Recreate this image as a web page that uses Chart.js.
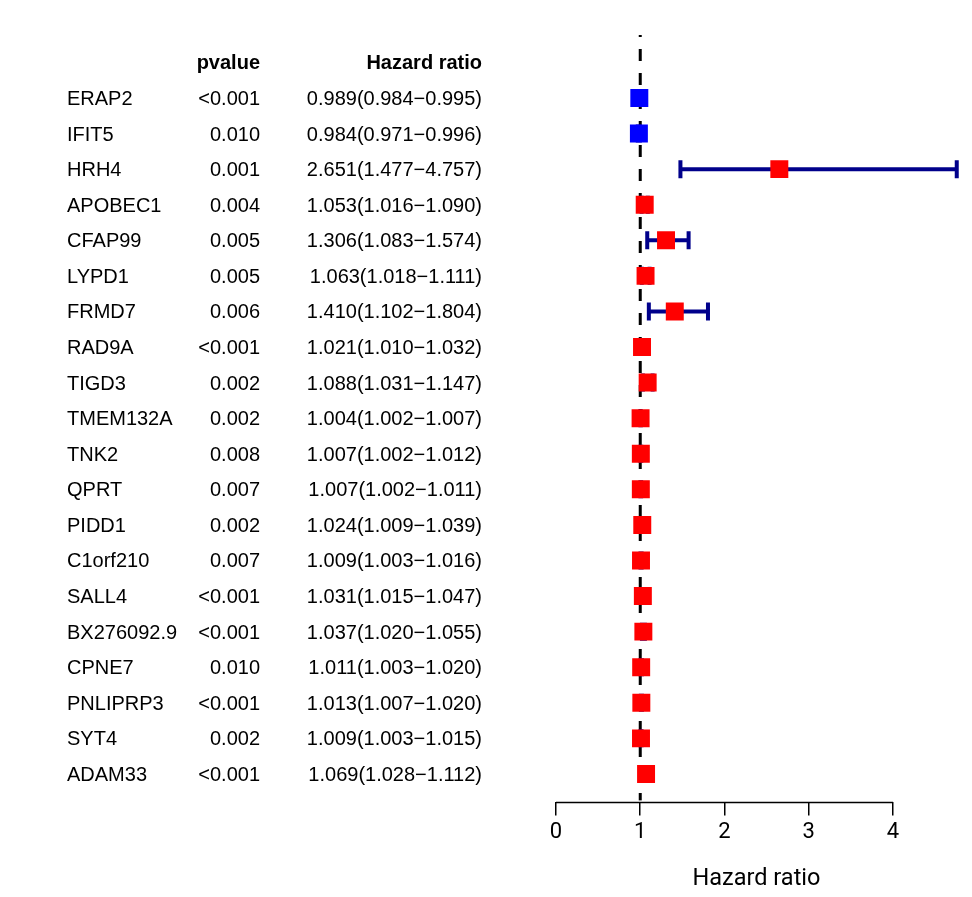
<!DOCTYPE html>
<html>
<head>
<meta charset="utf-8">
<script src="https://cdn.jsdelivr.net/npm/chart.js@4/dist/chart.umd.min.js"></script>
<style>
  html, body { margin: 0; padding: 0; background: #fff; }
  #wrap { width: 972px; height: 897px; }
</style>
</head>
<body>
<div id="wrap"><canvas id="forest" width="972" height="897"></canvas></div>
<script>
// --- data ---
const genes = ['ERAP2', 'IFIT5', 'HRH4', 'APOBEC1', 'CFAP99', 'LYPD1', 'FRMD7', 'RAD9A', 'TIGD3', 'TMEM132A',
  'TNK2', 'QPRT', 'PIDD1', 'C1orf210', 'SALL4', 'BX276092.9', 'CPNE7', 'PNLIPRP3', 'SYT4', 'ADAM33'];
const pvalues = ['<0.001', '0.010', '0.001', '0.004', '0.005', '0.005', '0.006', '<0.001', '0.002', '0.002',
  '0.008', '0.007', '0.002', '0.007', '<0.001', '<0.001', '0.010', '<0.001', '0.002', '<0.001'];
const hr = [0.989, 0.984, 2.651, 1.053, 1.306, 1.063, 1.410, 1.021, 1.088, 1.004,
  1.007, 1.007, 1.024, 1.009, 1.031, 1.037, 1.011, 1.013, 1.009, 1.069];
const hrLow = [0.984, 0.971, 1.477, 1.016, 1.083, 1.018, 1.102, 1.010, 1.031, 1.002,
  1.002, 1.002, 1.009, 1.003, 1.015, 1.020, 1.003, 1.007, 1.003, 1.028];
const hrHigh = [0.995, 0.996, 4.757, 1.090, 1.574, 1.111, 1.804, 1.032, 1.147, 1.007,
  1.012, 1.011, 1.039, 1.016, 1.047, 1.055, 1.020, 1.020, 1.015, 1.112];
const xTicks = [0, 1, 2, 3, 4];

const TABLE_FONT = '"Liberation Sans", Arial, sans-serif';
const AXIS_FONT = 'Roboto, "Liberation Sans", Arial, sans-serif';
const fmt = v => v.toFixed(3);

// error bars + reference line, drawn under the squares
const forestPlugin = {
  id: 'forest',
  beforeDatasetsDraw(chart) {
    const { ctx, chartArea, scales: { x, y } } = chart;
    ctx.save();
    // dashed line at HR = 1
    ctx.strokeStyle = '#000';
    ctx.lineWidth = 3;
    ctx.setLineDash([12, 12]);
    ctx.lineDashOffset = 10;
    ctx.beginPath();
    ctx.moveTo(x.getPixelForValue(1), chartArea.top);
    ctx.lineTo(x.getPixelForValue(1), chartArea.bottom - 2);
    ctx.stroke();
    ctx.setLineDash([]);

    // confidence intervals
    ctx.strokeStyle = '#00008B';
    ctx.lineWidth = 4;
    genes.forEach((g, i) => {
      const py = y.getPixelForValue(i);
      const x1 = x.getPixelForValue(hrLow[i]);
      const x2 = x.getPixelForValue(hrHigh[i]);
      ctx.beginPath();
      ctx.moveTo(x1, py);
      ctx.lineTo(x2, py);
      ctx.moveTo(x1, py - 9);
      ctx.lineTo(x1, py + 9);
      ctx.moveTo(x2, py - 9);
      ctx.lineTo(x2, py + 9);
      ctx.stroke();
    });
    ctx.restore();
  },
  afterDraw(chart) {
    const { ctx, scales: { x, y } } = chart;
    ctx.save();
    // axis line from 0 to 4 only
    const axisY = chart.chartArea.bottom;
    ctx.strokeStyle = '#000';
    ctx.lineWidth = 1.5;
    ctx.beginPath();
    ctx.moveTo(x.getPixelForValue(xTicks[0]), axisY);
    ctx.lineTo(x.getPixelForValue(xTicks[xTicks.length - 1]), axisY);
    ctx.stroke();

    // table columns
    ctx.fillStyle = '#000';
    ctx.textBaseline = 'middle';
    ctx.font = 'bold 20px ' + TABLE_FONT;
    ctx.textAlign = 'right';
    const hy = y.getPixelForValue(-1) + 1.5;
    ctx.fillText('pvalue', 260, hy);
    ctx.fillText('Hazard ratio', 482, hy);

    ctx.font = '20px ' + TABLE_FONT;
    genes.forEach((g, i) => {
      const py = y.getPixelForValue(i) + 1.5;
      ctx.textAlign = 'left';
      ctx.fillText(g, 67, py);
      ctx.textAlign = 'right';
      ctx.fillText(pvalues[i], 260, py);
      ctx.fillText(fmt(hr[i]) + '(' + fmt(hrLow[i]) + '\u2212' + fmt(hrHigh[i]) + ')', 482, py);
    });
    ctx.restore();
  }
};

new Chart(document.getElementById('forest'), {
  type: 'scatter',
  data: {
    datasets: [{
      data: hr.map((v, i) => ({ x: v, y: i })),
      backgroundColor: hr.map(v => v < 1 ? '#0000FF' : '#FF0000'),
      borderWidth: 0,
      pointStyle: 'rect',
      pointRadius: 12.7,
      pointHoverRadius: 12.7
    }]
  },
  options: {
    responsive: false,
    animation: false,
    layout: { padding: { left: 556, right: 15, top: 35, bottom: 0 } },
    plugins: { legend: { display: false }, tooltip: { enabled: false } },
    scales: {
      x: {
        type: 'linear',
        min: 0,
        max: 4.76,
        afterBuildTicks: scale => { scale.ticks = xTicks.map(v => ({ value: v })); },
        border: { display: false },
        grid: {
          drawOnChartArea: false,
          drawTicks: true,
          tickLength: 13,
          color: '#000',
          lineWidth: 1.5
        },
        ticks: {
          color: '#000',
          padding: 4,
          maxRotation: 0,
          font: { family: AXIS_FONT, size: 22 }
        },
        title: {
          display: true,
          text: 'Hazard ratio',
          color: '#000',
          font: { family: AXIS_FONT, size: 23.5 },
          padding: { top: 15, bottom: 4 }
        }
      },
      y: {
        type: 'linear',
        reverse: true,
        min: -1.77,
        max: 19.8,
        display: false
      }
    }
  },
  plugins: [forestPlugin]
});
</script>
</body>
</html>
